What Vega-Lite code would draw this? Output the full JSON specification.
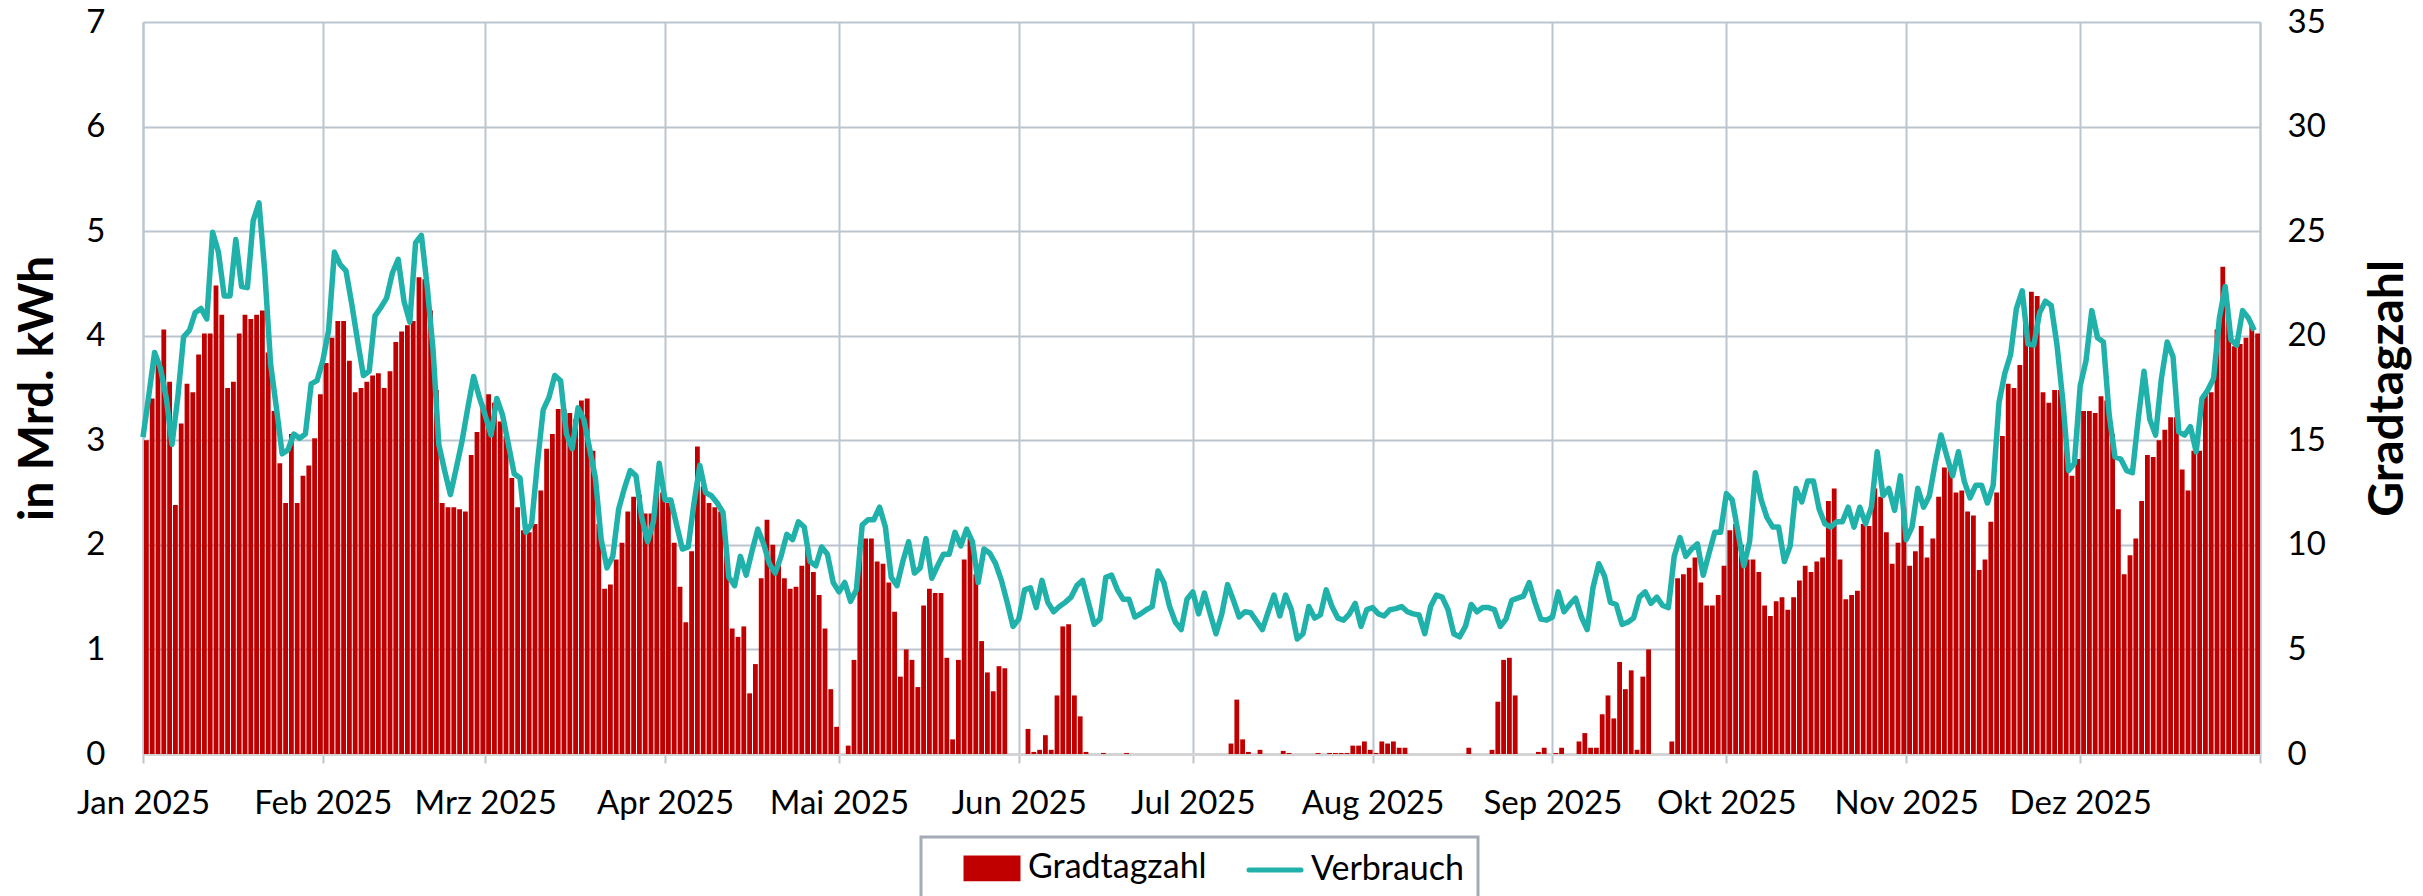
{
"$schema": "https://vega.github.io/schema/vega-lite/v6.json",
"width": 2117,
"height": 732,
"autosize": {"type": "none"},
"padding": {"left": 143, "top": 22, "right": 163, "bottom": 142},
"background": "white",
"config": {"view": {"stroke": null}, "font": "Lato"},
"data": {"values": [
{"d":"2025-01-01","g":15.0,"v":3.03},{"d":"2025-01-02","g":17.0,"v":3.43},{"d":"2025-01-03","g":18.7,"v":3.84},{"d":"2025-01-04","g":20.3,"v":3.69},{"d":"2025-01-05","g":17.8,"v":3.41},{"d":"2025-01-06","g":11.9,"v":2.96},{"d":"2025-01-07","g":15.8,"v":3.41},{"d":"2025-01-08","g":17.7,"v":3.99},{"d":"2025-01-09","g":17.3,"v":4.05},{"d":"2025-01-10","g":19.1,"v":4.22},{"d":"2025-01-11","g":20.1,"v":4.26},{"d":"2025-01-12","g":20.1,"v":4.16},{"d":"2025-01-13","g":22.4,"v":4.99},{"d":"2025-01-14","g":21.0,"v":4.8},{"d":"2025-01-15","g":17.5,"v":4.38},{"d":"2025-01-16","g":17.8,"v":4.38},{"d":"2025-01-17","g":20.1,"v":4.92},{"d":"2025-01-18","g":21.0,"v":4.47},{"d":"2025-01-19","g":20.8,"v":4.46},{"d":"2025-01-20","g":21.0,"v":5.1},{"d":"2025-01-21","g":21.2,"v":5.27},{"d":"2025-01-22","g":19.2,"v":4.61},{"d":"2025-01-23","g":16.4,"v":3.73},{"d":"2025-01-24","g":13.9,"v":3.31},{"d":"2025-01-25","g":12.0,"v":2.87},{"d":"2025-01-26","g":15.3,"v":2.91},{"d":"2025-01-27","g":12.0,"v":3.06},{"d":"2025-01-28","g":13.3,"v":3.02},{"d":"2025-01-29","g":13.8,"v":3.06},{"d":"2025-01-30","g":15.1,"v":3.54},{"d":"2025-01-31","g":17.2,"v":3.57},
{"d":"2025-02-01","g":18.7,"v":3.76},{"d":"2025-02-02","g":19.9,"v":4.05},{"d":"2025-02-03","g":20.7,"v":4.8},{"d":"2025-02-04","g":20.7,"v":4.68},{"d":"2025-02-05","g":18.8,"v":4.62},{"d":"2025-02-06","g":17.3,"v":4.3},{"d":"2025-02-07","g":17.5,"v":3.95},{"d":"2025-02-08","g":17.8,"v":3.62},{"d":"2025-02-09","g":18.1,"v":3.66},{"d":"2025-02-10","g":18.2,"v":4.19},{"d":"2025-02-11","g":17.5,"v":4.27},{"d":"2025-02-12","g":18.3,"v":4.36},{"d":"2025-02-13","g":19.7,"v":4.6},{"d":"2025-02-14","g":20.2,"v":4.73},{"d":"2025-02-15","g":20.5,"v":4.33},{"d":"2025-02-16","g":20.7,"v":4.13},{"d":"2025-02-17","g":22.8,"v":4.89},{"d":"2025-02-18","g":22.7,"v":4.96},{"d":"2025-02-19","g":21.2,"v":4.47},{"d":"2025-02-20","g":17.4,"v":3.87},{"d":"2025-02-21","g":12.0,"v":2.96},{"d":"2025-02-22","g":11.8,"v":2.71},{"d":"2025-02-23","g":11.8,"v":2.48},{"d":"2025-02-24","g":11.7,"v":2.73},{"d":"2025-02-25","g":11.6,"v":2.99},{"d":"2025-02-26","g":14.3,"v":3.31},{"d":"2025-02-27","g":15.4,"v":3.61},{"d":"2025-02-28","g":16.7,"v":3.41},
{"d":"2025-03-01","g":17.2,"v":3.24},{"d":"2025-03-02","g":16.8,"v":3.05},{"d":"2025-03-03","g":15.9,"v":3.4},{"d":"2025-03-04","g":15.2,"v":3.24},{"d":"2025-03-05","g":13.2,"v":2.96},{"d":"2025-03-06","g":11.8,"v":2.68},{"d":"2025-03-07","g":10.7,"v":2.64},{"d":"2025-03-08","g":10.6,"v":2.12},{"d":"2025-03-09","g":11.0,"v":2.2},{"d":"2025-03-10","g":12.6,"v":2.78},{"d":"2025-03-11","g":14.6,"v":3.29},{"d":"2025-03-12","g":15.3,"v":3.41},{"d":"2025-03-13","g":16.5,"v":3.62},{"d":"2025-03-14","g":16.5,"v":3.57},{"d":"2025-03-15","g":16.3,"v":3.06},{"d":"2025-03-16","g":16.0,"v":2.92},{"d":"2025-03-17","g":16.9,"v":3.31},{"d":"2025-03-18","g":17.0,"v":3.2},{"d":"2025-03-19","g":14.5,"v":2.92},{"d":"2025-03-20","g":11.0,"v":2.64},{"d":"2025-03-21","g":7.9,"v":2.05},{"d":"2025-03-22","g":8.1,"v":1.78},{"d":"2025-03-23","g":9.3,"v":1.89},{"d":"2025-03-24","g":10.1,"v":2.34},{"d":"2025-03-25","g":11.6,"v":2.54},{"d":"2025-03-26","g":12.3,"v":2.71},{"d":"2025-03-27","g":12.4,"v":2.66},{"d":"2025-03-28","g":11.5,"v":2.26},{"d":"2025-03-29","g":11.5,"v":2.03},{"d":"2025-03-30","g":12.7,"v":2.22},{"d":"2025-03-31","g":12.5,"v":2.78},
{"d":"2025-04-01","g":12.0,"v":2.43},{"d":"2025-04-02","g":10.1,"v":2.43},{"d":"2025-04-03","g":8.0,"v":2.19},{"d":"2025-04-04","g":6.3,"v":1.96},{"d":"2025-04-05","g":9.7,"v":1.98},{"d":"2025-04-06","g":14.7,"v":2.4},{"d":"2025-04-07","g":12.8,"v":2.76},{"d":"2025-04-08","g":12.0,"v":2.5},{"d":"2025-04-09","g":11.8,"v":2.47},{"d":"2025-04-10","g":11.6,"v":2.4},{"d":"2025-04-11","g":9.8,"v":2.31},{"d":"2025-04-12","g":6.0,"v":1.69},{"d":"2025-04-13","g":5.6,"v":1.61},{"d":"2025-04-14","g":6.1,"v":1.89},{"d":"2025-04-15","g":2.9,"v":1.71},{"d":"2025-04-16","g":4.3,"v":1.94},{"d":"2025-04-17","g":8.4,"v":2.15},{"d":"2025-04-18","g":11.2,"v":2.01},{"d":"2025-04-19","g":10.0,"v":1.82},{"d":"2025-04-20","g":9.0,"v":1.73},{"d":"2025-04-21","g":8.4,"v":1.89},{"d":"2025-04-22","g":7.9,"v":2.1},{"d":"2025-04-23","g":8.0,"v":2.05},{"d":"2025-04-24","g":9.0,"v":2.22},{"d":"2025-04-25","g":9.8,"v":2.17},{"d":"2025-04-26","g":8.7,"v":1.84},{"d":"2025-04-27","g":7.6,"v":1.8},{"d":"2025-04-28","g":6.0,"v":1.98},{"d":"2025-04-29","g":3.1,"v":1.91},{"d":"2025-04-30","g":1.3,"v":1.64},
{"d":"2025-05-01","g":0,"v":1.55},{"d":"2025-05-02","g":0.4,"v":1.64},{"d":"2025-05-03","g":4.5,"v":1.46},{"d":"2025-05-04","g":9.9,"v":1.57},{"d":"2025-05-05","g":10.3,"v":2.19},{"d":"2025-05-06","g":10.3,"v":2.24},{"d":"2025-05-07","g":9.2,"v":2.24},{"d":"2025-05-08","g":9.1,"v":2.36},{"d":"2025-05-09","g":8.2,"v":2.17},{"d":"2025-05-10","g":6.8,"v":1.69},{"d":"2025-05-11","g":3.7,"v":1.61},{"d":"2025-05-12","g":5.0,"v":1.84},{"d":"2025-05-13","g":4.5,"v":2.03},{"d":"2025-05-14","g":3.2,"v":1.73},{"d":"2025-05-15","g":7.1,"v":1.78},{"d":"2025-05-16","g":7.9,"v":2.06},{"d":"2025-05-17","g":7.7,"v":1.68},{"d":"2025-05-18","g":7.7,"v":1.8},{"d":"2025-05-19","g":4.6,"v":1.91},{"d":"2025-05-20","g":0.7,"v":1.91},{"d":"2025-05-21","g":4.5,"v":2.12},{"d":"2025-05-22","g":9.3,"v":1.99},{"d":"2025-05-23","g":10.3,"v":2.15},{"d":"2025-05-24","g":8.6,"v":2.03},{"d":"2025-05-25","g":5.4,"v":1.64},{"d":"2025-05-26","g":3.9,"v":1.96},{"d":"2025-05-27","g":3.0,"v":1.92},{"d":"2025-05-28","g":4.2,"v":1.82},{"d":"2025-05-29","g":4.1,"v":1.66},{"d":"2025-05-30","g":0,"v":1.45},{"d":"2025-05-31","g":0,"v":1.22},
{"d":"2025-06-01","g":0,"v":1.29},{"d":"2025-06-02","g":1.2,"v":1.57},{"d":"2025-06-03","g":0.1,"v":1.59},{"d":"2025-06-04","g":0.2,"v":1.4},{"d":"2025-06-05","g":0.9,"v":1.66},{"d":"2025-06-06","g":0.2,"v":1.45},{"d":"2025-06-07","g":2.8,"v":1.36},{"d":"2025-06-08","g":6.1,"v":1.41},{"d":"2025-06-09","g":6.2,"v":1.45},{"d":"2025-06-10","g":2.8,"v":1.5},{"d":"2025-06-11","g":1.8,"v":1.61},{"d":"2025-06-12","g":0.1,"v":1.66},{"d":"2025-06-13","g":0,"v":1.45},{"d":"2025-06-14","g":0,"v":1.24},{"d":"2025-06-15","g":0.05,"v":1.29},{"d":"2025-06-16","g":0,"v":1.69},{"d":"2025-06-17","g":0,"v":1.71},{"d":"2025-06-18","g":0,"v":1.57},{"d":"2025-06-19","g":0.05,"v":1.48},{"d":"2025-06-20","g":0,"v":1.48},{"d":"2025-06-21","g":0,"v":1.31},{"d":"2025-06-22","g":0,"v":1.34},{"d":"2025-06-23","g":0,"v":1.38},{"d":"2025-06-24","g":0,"v":1.41},{"d":"2025-06-25","g":0,"v":1.75},{"d":"2025-06-26","g":0,"v":1.64},{"d":"2025-06-27","g":0,"v":1.41},{"d":"2025-06-28","g":0,"v":1.26},{"d":"2025-06-29","g":0,"v":1.19},{"d":"2025-06-30","g":0,"v":1.48},
{"d":"2025-07-01","g":0,"v":1.55},{"d":"2025-07-02","g":0,"v":1.34},{"d":"2025-07-03","g":0,"v":1.54},{"d":"2025-07-04","g":0,"v":1.34},{"d":"2025-07-05","g":0,"v":1.15},{"d":"2025-07-06","g":0,"v":1.34},{"d":"2025-07-07","g":0.5,"v":1.62},{"d":"2025-07-08","g":2.6,"v":1.47},{"d":"2025-07-09","g":0.7,"v":1.31},{"d":"2025-07-10","g":0.1,"v":1.36},{"d":"2025-07-11","g":0,"v":1.35},{"d":"2025-07-12","g":0.2,"v":1.27},{"d":"2025-07-13","g":0,"v":1.19},{"d":"2025-07-14","g":0,"v":1.36},{"d":"2025-07-15","g":0,"v":1.52},{"d":"2025-07-16","g":0.15,"v":1.32},{"d":"2025-07-17","g":0.05,"v":1.52},{"d":"2025-07-18","g":0,"v":1.38},{"d":"2025-07-19","g":0,"v":1.1},{"d":"2025-07-20","g":0,"v":1.15},{"d":"2025-07-21","g":0,"v":1.41},{"d":"2025-07-22","g":0.05,"v":1.3},{"d":"2025-07-23","g":0,"v":1.33},{"d":"2025-07-24","g":0.05,"v":1.57},{"d":"2025-07-25","g":0.05,"v":1.41},{"d":"2025-07-26","g":0.05,"v":1.3},{"d":"2025-07-27","g":0.05,"v":1.28},{"d":"2025-07-28","g":0.4,"v":1.34},{"d":"2025-07-29","g":0.4,"v":1.44},{"d":"2025-07-30","g":0.6,"v":1.22},{"d":"2025-07-31","g":0.2,"v":1.38},
{"d":"2025-08-01","g":0.05,"v":1.4},{"d":"2025-08-02","g":0.6,"v":1.34},{"d":"2025-08-03","g":0.5,"v":1.32},{"d":"2025-08-04","g":0.6,"v":1.38},{"d":"2025-08-05","g":0.3,"v":1.39},{"d":"2025-08-06","g":0.3,"v":1.41},{"d":"2025-08-07","g":0,"v":1.36},{"d":"2025-08-08","g":0,"v":1.34},{"d":"2025-08-09","g":0,"v":1.33},{"d":"2025-08-10","g":0,"v":1.15},{"d":"2025-08-11","g":0,"v":1.41},{"d":"2025-08-12","g":0,"v":1.52},{"d":"2025-08-13","g":0,"v":1.5},{"d":"2025-08-14","g":0,"v":1.38},{"d":"2025-08-15","g":0,"v":1.15},{"d":"2025-08-16","g":0,"v":1.12},{"d":"2025-08-17","g":0.3,"v":1.22},{"d":"2025-08-18","g":0,"v":1.43},{"d":"2025-08-19","g":0,"v":1.36},{"d":"2025-08-20","g":0,"v":1.4},{"d":"2025-08-21","g":0.2,"v":1.4},{"d":"2025-08-22","g":2.5,"v":1.38},{"d":"2025-08-23","g":4.5,"v":1.22},{"d":"2025-08-24","g":4.6,"v":1.29},{"d":"2025-08-25","g":2.8,"v":1.47},{"d":"2025-08-26","g":0,"v":1.49},{"d":"2025-08-27","g":0,"v":1.51},{"d":"2025-08-28","g":0,"v":1.64},{"d":"2025-08-29","g":0.1,"v":1.45},{"d":"2025-08-30","g":0.3,"v":1.29},{"d":"2025-08-31","g":0,"v":1.28},
{"d":"2025-09-01","g":0.05,"v":1.31},{"d":"2025-09-02","g":0.3,"v":1.55},{"d":"2025-09-03","g":0,"v":1.36},{"d":"2025-09-04","g":0,"v":1.43},{"d":"2025-09-05","g":0.6,"v":1.49},{"d":"2025-09-06","g":1.0,"v":1.31},{"d":"2025-09-07","g":0.3,"v":1.19},{"d":"2025-09-08","g":0.3,"v":1.59},{"d":"2025-09-09","g":1.9,"v":1.82},{"d":"2025-09-10","g":2.8,"v":1.7},{"d":"2025-09-11","g":1.7,"v":1.45},{"d":"2025-09-12","g":4.4,"v":1.43},{"d":"2025-09-13","g":3.1,"v":1.24},{"d":"2025-09-14","g":4.0,"v":1.26},{"d":"2025-09-15","g":0.2,"v":1.3},{"d":"2025-09-16","g":3.7,"v":1.5},{"d":"2025-09-17","g":5.0,"v":1.55},{"d":"2025-09-18","g":0,"v":1.44},{"d":"2025-09-19","g":0,"v":1.5},{"d":"2025-09-20","g":0,"v":1.42},{"d":"2025-09-21","g":0.6,"v":1.4},{"d":"2025-09-22","g":8.4,"v":1.89},{"d":"2025-09-23","g":8.6,"v":2.07},{"d":"2025-09-24","g":8.9,"v":1.89},{"d":"2025-09-25","g":9.4,"v":1.96},{"d":"2025-09-26","g":8.2,"v":2.01},{"d":"2025-09-27","g":7.1,"v":1.71},{"d":"2025-09-28","g":7.1,"v":1.92},{"d":"2025-09-29","g":7.6,"v":2.12},{"d":"2025-09-30","g":9.0,"v":2.12},
{"d":"2025-10-01","g":10.7,"v":2.49},{"d":"2025-10-02","g":11.0,"v":2.43},{"d":"2025-10-03","g":10.0,"v":2.12},{"d":"2025-10-04","g":9.3,"v":1.8},{"d":"2025-10-05","g":9.3,"v":2.03},{"d":"2025-10-06","g":8.7,"v":2.69},{"d":"2025-10-07","g":7.1,"v":2.43},{"d":"2025-10-08","g":6.6,"v":2.26},{"d":"2025-10-09","g":7.3,"v":2.17},{"d":"2025-10-10","g":7.5,"v":2.17},{"d":"2025-10-11","g":6.9,"v":1.84},{"d":"2025-10-12","g":7.5,"v":1.99},{"d":"2025-10-13","g":8.3,"v":2.54},{"d":"2025-10-14","g":9.0,"v":2.41},{"d":"2025-10-15","g":8.7,"v":2.61},{"d":"2025-10-16","g":9.2,"v":2.61},{"d":"2025-10-17","g":9.4,"v":2.34},{"d":"2025-10-18","g":12.1,"v":2.2},{"d":"2025-10-19","g":12.7,"v":2.17},{"d":"2025-10-20","g":9.3,"v":2.22},{"d":"2025-10-21","g":7.4,"v":2.22},{"d":"2025-10-22","g":7.6,"v":2.36},{"d":"2025-10-23","g":7.8,"v":2.17},{"d":"2025-10-24","g":11.0,"v":2.36},{"d":"2025-10-25","g":10.9,"v":2.2},{"d":"2025-10-26","g":12.7,"v":2.36},{"d":"2025-10-27","g":12.3,"v":2.89},{"d":"2025-10-28","g":10.6,"v":2.47},{"d":"2025-10-29","g":9.1,"v":2.54},{"d":"2025-10-30","g":10.1,"v":2.33},{"d":"2025-10-31","g":11.8,"v":2.66},
{"d":"2025-11-01","g":9.0,"v":2.05},{"d":"2025-11-02","g":9.7,"v":2.17},{"d":"2025-11-03","g":10.9,"v":2.54},{"d":"2025-11-04","g":9.4,"v":2.36},{"d":"2025-11-05","g":10.3,"v":2.47},{"d":"2025-11-06","g":12.3,"v":2.78},{"d":"2025-11-07","g":13.7,"v":3.05},{"d":"2025-11-08","g":13.8,"v":2.85},{"d":"2025-11-09","g":12.5,"v":2.66},{"d":"2025-11-10","g":12.6,"v":2.89},{"d":"2025-11-11","g":11.6,"v":2.61},{"d":"2025-11-12","g":11.4,"v":2.45},{"d":"2025-11-13","g":8.8,"v":2.57},{"d":"2025-11-14","g":9.3,"v":2.57},{"d":"2025-11-15","g":11.1,"v":2.4},{"d":"2025-11-16","g":12.5,"v":2.57},{"d":"2025-11-17","g":15.2,"v":3.36},{"d":"2025-11-18","g":17.7,"v":3.64},{"d":"2025-11-19","g":17.5,"v":3.82},{"d":"2025-11-20","g":18.6,"v":4.26},{"d":"2025-11-21","g":20.8,"v":4.43},{"d":"2025-11-22","g":22.1,"v":3.92},{"d":"2025-11-23","g":21.9,"v":3.91},{"d":"2025-11-24","g":17.3,"v":4.22},{"d":"2025-11-25","g":16.8,"v":4.33},{"d":"2025-11-26","g":17.4,"v":4.29},{"d":"2025-11-27","g":17.4,"v":3.91},{"d":"2025-11-28","g":14.9,"v":3.38},{"d":"2025-11-29","g":13.3,"v":2.71},{"d":"2025-11-30","g":14.1,"v":2.78},
{"d":"2025-12-01","g":16.4,"v":3.52},{"d":"2025-12-02","g":16.4,"v":3.76},{"d":"2025-12-03","g":16.3,"v":4.24},{"d":"2025-12-04","g":17.1,"v":3.98},{"d":"2025-12-05","g":16.9,"v":3.94},{"d":"2025-12-06","g":15.3,"v":3.24},{"d":"2025-12-07","g":11.7,"v":2.84},{"d":"2025-12-08","g":8.6,"v":2.82},{"d":"2025-12-09","g":9.5,"v":2.71},{"d":"2025-12-10","g":10.3,"v":2.69},{"d":"2025-12-11","g":12.1,"v":3.2},{"d":"2025-12-12","g":14.3,"v":3.66},{"d":"2025-12-13","g":14.2,"v":3.2},{"d":"2025-12-14","g":15.0,"v":3.05},{"d":"2025-12-15","g":15.5,"v":3.59},{"d":"2025-12-16","g":16.1,"v":3.94},{"d":"2025-12-17","g":16.1,"v":3.8},{"d":"2025-12-18","g":13.6,"v":3.08},{"d":"2025-12-19","g":12.6,"v":3.05},{"d":"2025-12-20","g":14.5,"v":3.13},{"d":"2025-12-21","g":14.5,"v":2.89},{"d":"2025-12-22","g":17.2,"v":3.4},{"d":"2025-12-23","g":17.3,"v":3.48},{"d":"2025-12-24","g":20.3,"v":3.59},{"d":"2025-12-25","g":23.3,"v":4.17},{"d":"2025-12-26","g":21.0,"v":4.47},{"d":"2025-12-27","g":19.5,"v":3.96},{"d":"2025-12-28","g":19.6,"v":3.91},{"d":"2025-12-29","g":19.9,"v":4.24},{"d":"2025-12-30","g":20.5,"v":4.17},{"d":"2025-12-31","g":20.1,"v":4.05}
]},
"encoding": {
  "x": {
    "field": "d", "type": "temporal", "timeUnit": "utcyearmonthdate", "title": null,
    "scale": {"domain": [{"year": 2025, "month": 1, "date": 1, "utc": true}, {"year": 2026, "month": 1, "date": 1, "utc": true}]},
    "axis": {
      "values": [
        {"year": 2025, "month": 1, "date": 1, "utc": true},
        {"year": 2025, "month": 2, "date": 1, "utc": true},
        {"year": 2025, "month": 3, "date": 1, "utc": true},
        {"year": 2025, "month": 4, "date": 1, "utc": true},
        {"year": 2025, "month": 5, "date": 1, "utc": true},
        {"year": 2025, "month": 6, "date": 1, "utc": true},
        {"year": 2025, "month": 7, "date": 1, "utc": true},
        {"year": 2025, "month": 8, "date": 1, "utc": true},
        {"year": 2025, "month": 9, "date": 1, "utc": true},
        {"year": 2025, "month": 10, "date": 1, "utc": true},
        {"year": 2025, "month": 11, "date": 1, "utc": true},
        {"year": 2025, "month": 12, "date": 1, "utc": true},
        {"year": 2026, "month": 1, "date": 1, "utc": true}
      ],
      "labelExpr": "utcyear(datum.value) > 2025 ? '' : ['Jan','Feb','Mrz','Apr','Mai','Jun','Jul','Aug','Sep','Okt','Nov','Dez'][utcmonth(datum.value)] + ' 2025'",
      "grid": true, "gridColor": "#BCC5CF", "gridWidth": 2,
      "domainColor": "#D4D4D4", "domainWidth": 3,
      "tickColor": "#BCC5CF", "tickWidth": 2, "tickSize": 9,
      "labelPadding": 24, "labelFontSize": 33, "labelFont": "Lato", "labelColor": "#000000",
      "labelAlign": "center", "labelFlush": false, "labelOverlap": false
    }
  }
},
"layer": [
  {
    "mark": {"type": "bar", "timeUnitBandSize": 0.7},
    "encoding": {
      "y": {
        "field": "g", "type": "quantitative", "scale": {"domain": [0, 35]},
        "axis": {
          "orient": "right", "values": [0, 5, 10, 15, 20, 25, 30, 35], "grid": false,
          "domain": true, "domainColor": "#BCC5CF", "domainWidth": 2, "ticks": false,
          "labelPadding": 27, "labelFontSize": 33, "labelFont": "Lato", "labelColor": "#000000", "labelFlush": false,
          "title": "Gradtagzahl", "titleFont": "Lato", "titleFontSize": 48, "titleFontWeight": "bold", "titleColor": "#000000",
          "titleAngle": 270, "titleX": 128, "titleY": 366, "titleAlign": "center", "titleBaseline": "middle"
        }
      },
      "color": {
        "datum": "Gradtagzahl",
        "scale": {"domain": ["Gradtagzahl", "Verbrauch"], "range": ["#C00000", "#20B2AA"]},
        "legend": {
          "orient": "none", "legendX": 778, "legendY": 815, "direction": "horizontal", "title": null,
          "strokeColor": "#A3ACB6", "padding": 14, "symbolOffset": 40, "symbolSize": 676,
          "labelFont": "Lato", "labelFontSize": 34, "labelColor": "#000000", "labelOffset": 19, "labelLimit": 600, "columnPadding": 11,
          "encode": {
            "symbols": {"update": {
              "shape": {"signal": "datum.value === 'Gradtagzahl' ? 'M-2,-0.8L2,-0.8L2,0.8L-2,0.8Z' : 'M-2,0L2,0'"},
              "fill": {"signal": "datum.value === 'Gradtagzahl' ? '#C00000' : 'transparent'"},
              "stroke": {"signal": "datum.value === 'Gradtagzahl' ? 'transparent' : '#20B2AA'"},
              "strokeWidth": {"value": 5},
              "strokeCap": {"value": "round"},
              "opacity": {"value": 1}
            }},
            "legend": {"update": {"strokeWidth": {"value": 3}}}
          }
        }
      }
    }
  },
  {
    "mark": {"type": "line", "strokeWidth": 5.5, "strokeJoin": "round", "timeUnitBandPosition": 0.5},
    "encoding": {
      "y": {
        "field": "v", "type": "quantitative", "scale": {"domain": [0, 7]},
        "axis": {
          "orient": "left", "values": [0, 1, 2, 3, 4, 5, 6, 7], "grid": true, "gridColor": "#BCC5CF", "gridWidth": 2,
          "domain": true, "domainColor": "#BCC5CF", "domainWidth": 2, "ticks": false,
          "labelPadding": 38, "labelFontSize": 33, "labelFont": "Lato", "labelColor": "#000000", "labelFlush": false,
          "title": "in Mrd. kWh", "titleFont": "Lato", "titleFontSize": 48, "titleFontWeight": "bold", "titleColor": "#000000",
          "titleAngle": 270, "titleX": -105, "titleY": 366, "titleAlign": "center", "titleBaseline": "middle"
        }
      },
      "color": {"datum": "Verbrauch"}
    }
  }
],
"resolve": {"scale": {"y": "independent"}}
}
